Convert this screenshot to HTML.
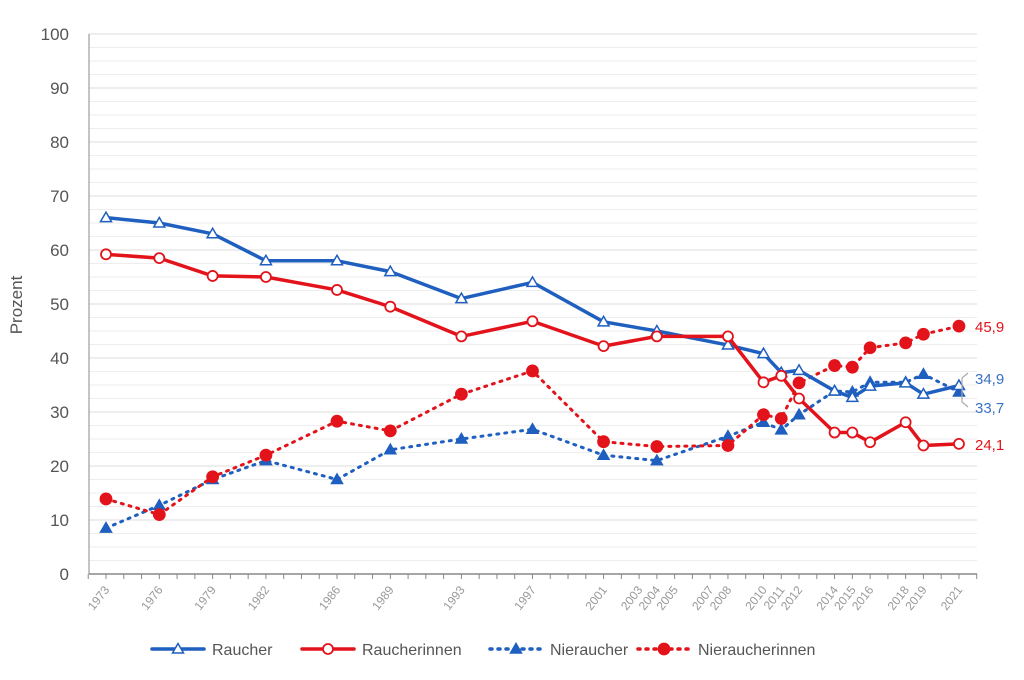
<!DOCTYPE html>
<html><head><meta charset="utf-8"><style>
body{margin:0;background:#fff;font-family:"Liberation Sans",sans-serif;}
svg text{font-family:"Liberation Sans",sans-serif;}
</style></head><body>
<svg id="chart" width="1024" height="675" xmlns="http://www.w3.org/2000/svg">
<g id="grid"></g><g id="axes"></g><g id="series"></g><g id="legend"></g>
</svg>
<script>
const years = [1973,1976,1979,1982,1986,1989,1993,1997,2001,2004,2008,2010,2011,2012,2014,2015,2016,2018,2019,2021];
const tickYears = [1973,1976,1979,1982,1986,1989,1993,1997,2001,2003,2004,2005,2007,2008,2010,2011,2012,2014,2015,2016,2018,2019,2021];
const raucher = [66,65,63,58,58,56,51,54,46.7,45,42.4,40.8,37.3,37.7,33.9,32.7,34.8,35.4,33.3,34.9];
const raucherinnen = [59.2,58.5,55.2,55,52.6,49.5,44,46.8,42.2,44,44,35.5,36.7,32.5,26.2,26.2,24.4,28.1,23.8,24.1];
const nieraucher = [8.5,12.7,17.5,21,17.5,23,25,26.8,22,21,25.5,28.1,26.7,29.5,33.9,33.7,35.5,35.5,37,33.7];
const nieraucherinnen = [13.9,11,18,22,28.3,26.5,33.3,37.6,24.5,23.6,23.8,29.5,28.8,35.4,38.6,38.3,41.9,42.8,44.4,45.9];
const yTicks = [0,10,20,30,40,50,60,70,80,90,100];
const endLabels = ["45,9","34,9","33,7","24,1"];

const NS="http://www.w3.org/2000/svg";
const x = y => 106 + (y-1973)*17.77;
const yv = v => 574 - v*5.4;
function mk(tag, attrs, parent){const e=document.createElementNS(NS,tag);for(const k in attrs)e.setAttribute(k,attrs[k]);parent.appendChild(e);return e;}
const grid=document.getElementById('grid'), axes=document.getElementById('axes'), ser=document.getElementById('series'), leg=document.getElementById('legend');
for(let v=2.5;v<=100;v+=2.5){
  const l=mk('line',{x1:89,x2:977,y1:yv(v),y2:yv(v),stroke: v%10===0?'#dcdcdc':'#eeeeee','stroke-width':1},grid);
  
  
}
const ya=mk('line',{x1:89,x2:89,y1:yv(100),y2:574,stroke:'#888','stroke-width':1},axes);


const xa=mk('line',{x1:89,x2:977,y1:574,y2:574,stroke:'#888','stroke-width':1.5},axes);


yTicks.forEach(v=>{
  const t=mk('text',{x:69,y:yv(v)+6,'text-anchor':'end','font-size':17,fill:'#555'},axes);
  t.textContent=v;
  
  
});
for(let yr=1972;yr<=2022;yr++){
  const tk=mk('line',{x1:x(yr),x2:x(yr),y1:574,y2:579,stroke:'#888'},axes);
  
  
}
tickYears.forEach(yr=>{
  const t=mk('text',{x:x(yr)+4,y:590,'text-anchor':'end','font-size':12,fill:'#999',transform:`rotate(-52 ${x(yr)+4} 590)`},axes);
  t.textContent=yr;
  
  
});
const yt=mk('text',{x:22,y:305,'text-anchor':'middle','font-size':17,fill:'#555',transform:'rotate(-90 22 305)'},axes);
yt.textContent='Prozent';



function marker(g,type,cx,cy,color){
  let m;
  if(type==='tri'||type==='trif'){
    m=mk('polygon',{points:`${cx},${cy-5.5} ${cx-5.5},${cy+4} ${cx+5.5},${cy+4}`,fill:type==='tri'?'#fff':color,stroke:color,'stroke-width':1.5},g);
  } else {
    m=mk('circle',{cx,cy,r:type==='circ'?5:5.5,fill:type==='circ'?'#fff':color,stroke:color,'stroke-width':1.8},g);
  }
  return m;
}
const seriesDefs=[
  {name:'nieraucher',data:nieraucher,color:'#1f5fbf',dash:'2 6',m:'trif',w:3},
  {name:'nieraucherinnen',data:nieraucherinnen,color:'#e3131b',dash:'2 6',m:'circf',w:3},
  {name:'raucher',data:raucher,color:'#1f5fbf',dash:null,m:'tri',w:3.5},
  {name:'raucherinnen',data:raucherinnen,color:'#e3131b',dash:null,m:'circ',w:3.5},
];
seriesDefs.forEach(s=>{
  const g=mk('g',{},ser);
  
  
  const pts=years.map((yr,i)=>x(yr)+','+yv(s.data[i])).join(' ');
  const pl=mk('polyline',{points:pts,fill:'none',stroke:s.color,'stroke-width':s.w,'stroke-linecap':'round','stroke-linejoin':'round'},g);
  if(s.dash)pl.setAttribute('stroke-dasharray',s.dash);
  
  
  years.forEach((yr,i)=>{
    const m=marker(g,s.m,x(yr),yv(s.data[i]),s.color);
    
    
  });
});
const lblPos=[[326,'#e3131b'],[378,'#3a72c4'],[407,'#3a72c4'],[444,'#e3131b']];
endLabels.forEach((t,i)=>{
  const e=mk('text',{x:975,y:lblPos[i][0]+6,'font-size':15,fill:lblPos[i][1]},ser);
  e.textContent=t;
  
  
});
const br=mk('path',{d:'M968 373 L962 378 L962 402 L968 407',fill:'none',stroke:'#aaa','stroke-width':1.2},ser);



const legItems=[['Raucher','#1f5fbf',null,'tri',152],['Raucherinnen','#e3131b',null,'circ',302],['Nieraucher','#1f5fbf','2 6','trif',490],['Nieraucherinnen','#e3131b','2 6','circf',638]];
legItems.forEach(([t,c,d,m,lx])=>{
  const g=mk('g',{},leg);
  
  
  const l=mk('line',{x1:lx,x2:lx+52,y1:649,y2:649,stroke:c,'stroke-width':3.5,'stroke-linecap':'round'},g);
  if(d)l.setAttribute('stroke-dasharray',d);
  marker(g,m,lx+26,649,c);
  const tx=mk('text',{x:lx+60,y:655,'font-size':16,fill:'#555'},g);
  tx.textContent=t;
});
</script>
</body></html>
